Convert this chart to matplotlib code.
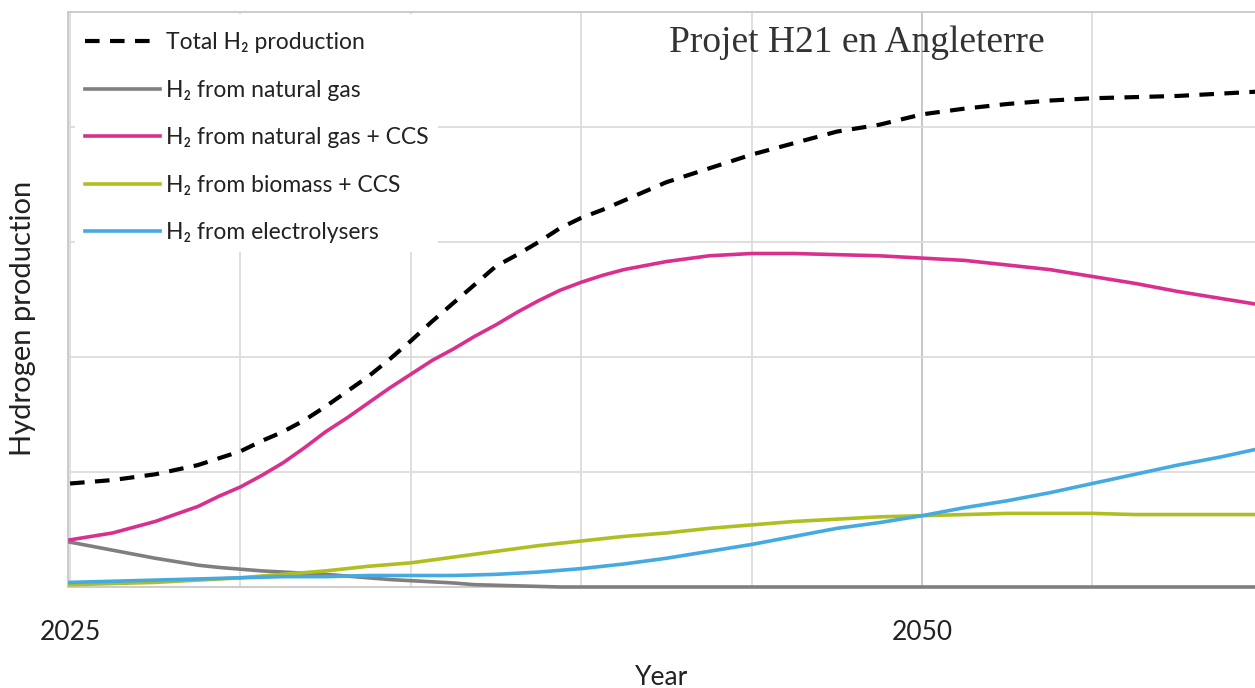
import matplotlib
matplotlib.use("Agg")
import matplotlib.pyplot as plt
from matplotlib.patches import Rectangle

years = [2025, 2026.25, 2027.5, 2028.75, 2029.375, 2030, 2030.625, 2031.25,
         2031.875, 2032.5, 2033.125, 2033.75, 2034.375, 2035, 2035.625, 2036.25,
         2036.875, 2037.5, 2038.125, 2038.75, 2039.375, 2040, 2040.625, 2041.25,
         2042.5, 2043.75, 2045, 2046.25, 2047.5, 2048.75, 2050, 2051.25, 2052.5,
         2053.75, 2055, 2056.25, 2057.5, 2058.75, 2060]

total = [0.90, 0.93, 0.98, 1.06, 1.12, 1.18, 1.27, 1.35,
         1.45, 1.57, 1.70, 1.83, 1.98, 2.14, 2.31, 2.47,
         2.63, 2.79, 2.89, 3.00, 3.12, 3.21, 3.28, 3.36,
         3.52, 3.64, 3.76, 3.86, 3.96, 4.02, 4.11, 4.16, 4.20,
         4.23, 4.25, 4.26, 4.27, 4.29, 4.31]

natural_gas = [0.39, 0.32, 0.25, 0.19, 0.17, 0.155, 0.14, 0.13,
               0.12, 0.11, 0.095, 0.08, 0.065, 0.055, 0.045, 0.035,
               0.02, 0.015, 0.01, 0.005, 0.0, 0.0, 0.0, 0.0,
               0.0, 0.0, 0.0, 0.0, 0.0, 0.0, 0.0, 0.0, 0.0,
               0.0, 0.0, 0.0, 0.0, 0.0, 0.0]

natural_gas_ccs = [0.41, 0.47, 0.57, 0.70, 0.79, 0.87, 0.97, 1.08,
                   1.21, 1.35, 1.47, 1.60, 1.73, 1.85, 1.97, 2.07,
                   2.18, 2.28, 2.39, 2.49, 2.58, 2.65, 2.71, 2.76,
                   2.83, 2.88, 2.90, 2.90, 2.89, 2.88, 2.86, 2.84, 2.80,
                   2.76, 2.70, 2.64, 2.57, 2.51, 2.45]

biomass_ccs = [0.02, 0.03, 0.04, 0.06, 0.07, 0.08, 0.095, 0.11,
               0.125, 0.14, 0.16, 0.18, 0.195, 0.21, 0.235, 0.26,
               0.285, 0.31, 0.335, 0.36, 0.38, 0.40, 0.42, 0.44,
               0.47, 0.51, 0.54, 0.57, 0.59, 0.61, 0.62, 0.63, 0.64,
               0.64, 0.64, 0.63, 0.63, 0.63, 0.63]

electrolysers = [0.04, 0.05, 0.06, 0.07, 0.075, 0.08, 0.085, 0.09,
                 0.09, 0.09, 0.095, 0.10, 0.10, 0.10, 0.10, 0.10,
                 0.105, 0.11, 0.12, 0.13, 0.145, 0.16, 0.18, 0.20,
                 0.25, 0.31, 0.37, 0.44, 0.51, 0.56, 0.62, 0.69, 0.75,
                 0.82, 0.90, 0.98, 1.06, 1.13, 1.21]

labels = ["Total H\u2082 production", "H\u2082 from natural gas",
          "H\u2082 from natural gas + CCS", "H\u2082 from biomass + CCS",
          "H\u2082 from electrolysers"]
grid_years = [2025, 2030, 2035, 2040, 2045, 2050, 2055]
tick_labels = ["2025", "", "", "", "", "2050", ""]

plt.rcParams['font.family'] = ['Lato', 'DejaVu Sans']

fig = plt.figure(figsize=(12.55, 6.88), dpi=100)
ax = fig.add_axes([68/1255, 101/688, 1187/1255, 575/688])

ax.set_xlim(2024.94, 2059.77)
ax.set_ylim(0, 5)

ax.set_axisbelow(True)
ax.set_xticks(grid_years)
ax.set_xticklabels(tick_labels)
ax.set_yticks([1, 2, 3, 4])
ax.set_yticklabels([])
ax.tick_params(axis='both', length=0, labelsize=19, pad=24, colors='#222222')
ax.grid(True, color='#dcdcdc', linewidth=1.3)
ax.get_xgridlines()[5].set_color('#c4c4c4')

for s in ['left', 'top', 'bottom']:
    ax.spines[s].set_color('#c8c8c8')
    ax.spines[s].set_linewidth(1.3)
ax.spines['right'].set_visible(False)

ax.add_patch(Rectangle((0.006, 0.583), 0.306, 0.414, transform=ax.transAxes,
                       facecolor='white', edgecolor='none', zorder=1))

l_tot, = ax.plot(years, total, color='black', linewidth=3.0, dashes=(3.5, 2.5),
                 zorder=5)
l_ng, = ax.plot(years, natural_gas, color='#7f7f7f', linewidth=2.6, zorder=3,
                clip_on=False)
l_ccs, = ax.plot(years, natural_gas_ccs, color='#d9308f', linewidth=2.6, zorder=4)
l_bio, = ax.plot(years, biomass_ccs, color='#afbf22', linewidth=2.6, zorder=3)
l_ele, = ax.plot(years, electrolysers, color='#45a9e2', linewidth=2.6, zorder=3)

leg = ax.legend([l_tot, l_ng, l_ccs, l_bio, l_ele], labels, loc='upper left',
                bbox_to_anchor=(0.014, 0.965), frameon=False, fontsize=16.5,
                handlelength=3.3, handletextpad=0.25, labelspacing=1.16,
                borderpad=0, borderaxespad=0)
for t in leg.get_texts():
    t.set_color('#222222')

ax.set_xlabel("Year", fontsize=19, color='#222222', labelpad=14)
ax.set_ylabel("Hydrogen production", fontsize=21, color='#222222')
ax.yaxis.set_label_coords(-0.027, 0.468)

fig.text(857/1255, 1 - 43/688, "Projet H21 en Angleterre", family='Liberation Serif',
         fontsize=27, color='#333333', ha='center', va='center')

fig.savefig("out.png", dpi=100)
